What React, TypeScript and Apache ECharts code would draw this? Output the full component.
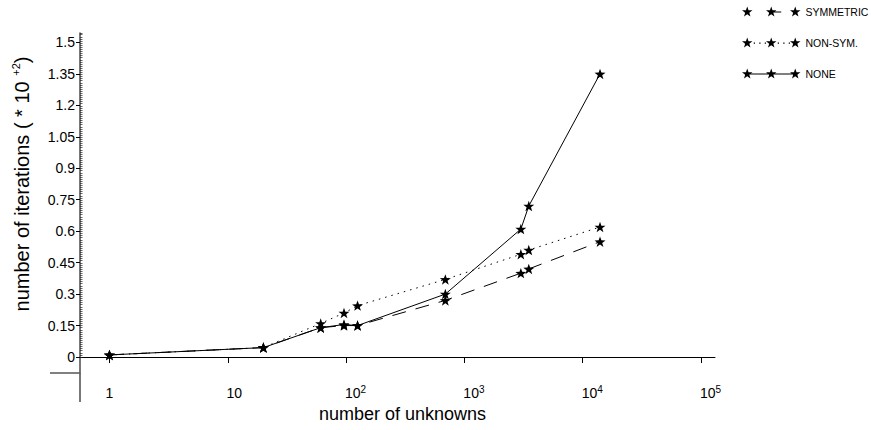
import React, { useEffect, useRef } from "react";
import * as echarts from "echarts";

// ---- data ----
const unknowns = [1, 20, 61, 96, 125, 690, 3000, 3500, 14000];
const symmetric = [0.01, 0.045, 0.14, 0.15, 0.15, 0.27, 0.40, 0.42, 0.55];
const nonSym = [0.01, 0.045, 0.16, 0.21, 0.245, 0.37, 0.49, 0.51, 0.62];
const none = [0.01, 0.045, 0.14, 0.155, 0.15, 0.30, 0.61, 0.72, 1.35];
const seriesNames = ["SYMMETRIC", "NON-SYM.", "NONE"];
const yTicks = [0, 0.15, 0.3, 0.45, 0.6, 0.75, 0.9, 1.05, 1.2, 1.35, 1.5];
const xTicks = [1, 10, 100, 1000, 10000, 100000];

// ---- shapes ----
function starD(cx: number, cy: number, R: number): string {
  const r = R * 0.4;
  let d = "";
  for (let i = 0; i < 10; i++) {
    const a = ((-90 + i * 36) * Math.PI) / 180;
    const rad = i % 2 === 0 ? R : r;
    const x = (cx + rad * Math.cos(a)).toFixed(2);
    const y = (cy + rad * Math.sin(a)).toFixed(2);
    d += (i === 0 ? "M" : "L") + x + " " + y + " ";
  }
  return d + "Z ";
}
function rectD(x0: number, x1: number, cy: number, h: number): string {
  const y0 = (cy - h / 2).toFixed(2);
  const y1 = (cy + h / 2).toFixed(2);
  return `M${x0} ${y0} L${x1} ${y0} L${x1} ${y1} L${x0} ${y1} Z `;
}
const SR = 5.5;
const starW = SR * Math.cos((18 * Math.PI) / 180);
const c1 = starW, c2 = starW + 24, c3 = starW + 48;
const cy = SR;
const stars3 = starD(c1, cy, SR) + starD(c2, cy, SR) + starD(c3, cy, SR);
const iconSym = "path://" + stars3 + rectD(c2 + 2, c2 + 10, cy, 1);
const iconNon =
  "path://" +
  stars3 +
  [c1 + 6.5, c1 + 12, c1 + 17.5, c2 + 6.5, c2 + 12, c2 + 17.5]
    .map((x) => rectD(x, x + 1.3, cy, 1.3))
    .join("");
const iconNone = "path://" + stars3 + rectD(c1 + 2, c3 - 2, cy, 1.1);
const iconW = c3 + starW;
const starSymbol = "path://" + starD(0, 0, 10);

const FONT = "'Liberation Sans', Arial, sans-serif";

export default function App() {
  const ref = useRef<HTMLDivElement>(null);
  useEffect(() => {
    if (!ref.current) return;
    const chart = echarts.init(ref.current, undefined, { renderer: "svg" });
    const mk = (name: string, vals: number[], type: any) => ({
      name,
      type: "line",
      xAxisIndex: 0,
      yAxisIndex: 0,
      data: unknowns.map((u, i) => [u, vals[i]]),
      symbol: starSymbol,
      symbolSize: 11,
      symbolKeepAspect: true,
      itemStyle: { color: "#000" },
      lineStyle: { color: "#000", width: 1, type },
      emphasis: { disabled: true },
      z: 3,
    });
    const supFmt = (v: number) => {
      const e = Math.round(Math.log10(v));
      if (e === 0) return "{n|1}";
      if (e === 1) return "{p1|}{n|10}";
      return "{p2|}{n|10}{s|" + e + "}";
    };
    chart.setOption({
      animation: false,
      backgroundColor: "#fff",
      textStyle: { fontFamily: FONT, color: "#000" },
      legend: {
        orient: "vertical",
        left: 742,
        top: 6,
        padding: 0,
        itemWidth: iconW,
        itemHeight: 10,
        itemGap: 20,
        selectedMode: false,
        textStyle: {
          fontFamily: FONT,
          fontSize: 10.5,
          color: "#000",
          overflow: "none",
        },
        data: [
          { name: seriesNames[0], icon: iconSym },
          { name: seriesNames[1], icon: iconNon },
          { name: seriesNames[2], icon: iconNone },
        ],
      },
      grid: [
        { left: 80, right: 156, top: 33, bottom: 57 },
        { left: 80, right: 156, top: 33, bottom: 73 },
      ],
      xAxis: [
        {
          type: "log",
          logBase: 10,
          gridIndex: 0,
          min: Math.pow(10, -0.249),
          max: Math.pow(10, 5.118),
          axisLine: { lineStyle: { color: "#000", width: 1 } },
          axisTick: { show: true, length: 6, lineStyle: { color: "#000" }, customValues: xTicks },
          axisLabel: {
            customValues: xTicks,
            margin: 11,
            align: "center",
            formatter: supFmt,
            rich: {
              n: { fontSize: 14, fontFamily: FONT, color: "#000", lineHeight: 18 },
              s: { fontSize: 10, fontFamily: FONT, color: "#000", lineHeight: 10, verticalAlign: "top" },
              p1: { width: 13, lineHeight: 18 },
              p2: { width: 19, lineHeight: 18 },
            },
          },
          splitLine: { show: false },
          minorTick: { show: false },
          name: "number of unknowns",
          nameLocation: "middle",
          nameGap: 30,
          nameTextStyle: { fontSize: 18, fontFamily: FONT, color: "#000", padding: [0, 0, 0, 10] },
        },
        { type: "value", gridIndex: 1, show: false, min: 0, max: 1 },
      ],
      yAxis: [
        {
          type: "value",
          gridIndex: 0,
          min: -0.0762,
          max: 1.545,
          axisLine: { show: true, lineStyle: { color: "#555", width: 1.6 } },
          axisTick: { show: true, length: 4, lineStyle: { color: "#000" }, customValues: yTicks },
          axisLabel: { customValues: yTicks, margin: 5, fontSize: 14, fontFamily: FONT, color: "#000" },
          splitLine: { show: false },
        },
        {
          type: "value",
          gridIndex: 1,
          min: 0,
          max: 1.548,
          interval: 0.01,
          axisLine: { show: false },
          axisTick: { show: true, inside: true, length: 2.5, lineStyle: { color: "#222", width: 0.7 } },
          axisLabel: { show: false },
          splitLine: { show: false },
        },
      ],
      graphic: [
        {
          type: "line",
          shape: { x1: 50, y1: 373, x2: 80, y2: 373 },
          style: { stroke: "#000", lineWidth: 1 },
        },
        {
          type: "line",
          shape: { x1: 80, y1: 373, x2: 80, y2: 402 },
          style: { stroke: "#777", lineWidth: 2 },
        },
        {
          type: "text",
          x: 22,
          y: 184,
          rotation: Math.PI / 2,
          style: {
            text: "{n|number of iterations ( * 10 }{s|+2}{n|)}",
            align: "center",
            verticalAlign: "middle",
            textAlign: "center",
            textVerticalAlign: "middle",
            fill: "#000",
            rich: {
              n: { fontSize: 20, fontFamily: FONT, fill: "#000", color: "#000", lineHeight: 24 },
              s: { fontSize: 11, fontFamily: FONT, fill: "#000", color: "#000", lineHeight: 12, verticalAlign: "top" },
            },
          },
        },
      ],
      series: [
        mk(seriesNames[0], symmetric, [14, 10]),
        mk(seriesNames[1], nonSym, [1.5, 5]),
        mk(seriesNames[2], none, "solid"),
      ],
    });
    return () => chart.dispose();
  }, []);
  return <div ref={ref} style={{ position: "absolute", left: 0, top: 0, width: 871, height: 430 }} />;
}
